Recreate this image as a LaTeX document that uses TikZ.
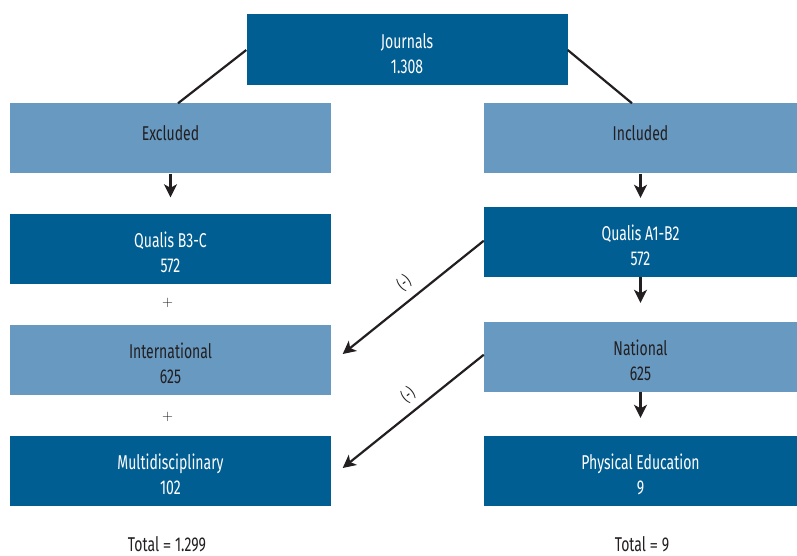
\documentclass[tikz,border=0pt]{standalone}
\usepackage{fontspec}
\setmainfont[FakeStretch=0.7]{Fira Sans}
\newfontfamily\widefont{Fira Sans}
\usetikzlibrary{arrows.meta,calc}
\definecolor{darkbox}{RGB}{0,94,146}
\definecolor{lightbox}{RGB}{103,153,193}
\definecolor{ink}{RGB}{35,31,32}
\tikzset{
  dbox/.style={draw=none,fill=darkbox,inner sep=0pt},
  lbox/.style={draw=none,fill=lightbox,inner sep=0pt},
  dtext/.style={text=white,anchor=base,inner sep=0pt,font=\fontsize{20}{25}\selectfont},
  ltext/.style={text=ink,anchor=base,inner sep=0pt,font=\fontsize{20}{25}\selectfont},
  conn/.style={draw=ink,line width=2.2pt},
  arr/.style={draw=ink,line width=2.2pt,-{Stealth[length=13pt,width=13pt,inset=3.5pt]}},
  lbl/.style={text=ink,font=\fontsize{16}{18}\selectfont,inner sep=0pt},
  plain/.style={text=ink,font=\fontsize{20}{25}\selectfont,inner sep=0pt}
}
\begin{document}
\begin{tikzpicture}[x=1pt,y=-1pt]
\useasboundingbox (0,0) rectangle (797,556);
% boxes
\node[dbox,minimum width=321pt,minimum height=71pt] (journals) at (407,50) {};
\node[lbox,minimum width=321pt,minimum height=70pt] (excl) at (170.5,138.5) {};
\node[lbox,minimum width=313pt,minimum height=70pt] (incl) at (640.5,138.5) {};
\node[dbox,minimum width=321pt,minimum height=70pt] (qb3) at (170.5,249) {};
\node[lbox,minimum width=321pt,minimum height=70pt] (intl) at (170.5,360) {};
\node[dbox,minimum width=321pt,minimum height=70pt] (multi) at (170.5,471) {};
\node[dbox,minimum width=313pt,minimum height=70pt] (qa1) at (640.5,242) {};
\node[lbox,minimum width=313pt,minimum height=70pt] (natl) at (640.5,357) {};
\node[dbox,minimum width=313pt,minimum height=70pt] (phys) at (640.5,471) {};
% texts
\node[dtext] (journals-a) at ($(journals.center)+(0,-1.5)$) {Journals};
\node[dtext] (journals-b) at ($(journals.center)+(0,23.5)$) {1.308};
\node[ltext] (excl-a) at ($(excl.center)+(0,2)$) {Excluded};
\node[ltext] (incl-a) at ($(incl.center)+(0,2)$) {Included};
\node[dtext] (qb3-a) at ($(qb3.center)+(0,-1.5)$) {Qualis B3-C};
\node[dtext] (qb3-b) at ($(qb3.center)+(0,23.5)$) {572};
\node[ltext] (intl-a) at ($(intl.center)+(0,-1.5)$) {International};
\node[ltext] (intl-b) at ($(intl.center)+(0,23.5)$) {625};
\node[dtext] (multi-a) at ($(multi.center)+(0,-1.5)$) {Multidisciplinary};
\node[dtext] (multi-b) at ($(multi.center)+(0,23.5)$) {102};
\node[dtext] (qa1-a) at ($(qa1.center)+(0,-1.5)$) {Qualis A1-B2};
\node[dtext] (qa1-b) at ($(qa1.center)+(0,23.5)$) {572};
\node[ltext] (natl-a) at ($(natl.center)+(0,-1.5)$) {National};
\node[ltext] (natl-b) at ($(natl.center)+(0,23.5)$) {625};
\node[dtext] (phys-a) at ($(phys.center)+(0,-1.5)$) {Physical Education};
\node[dtext] (phys-b) at ($(phys.center)+(0,23.5)$) {9};
\node[plain,font=\fontsize{14}{16}\selectfont] (plus1) at (167.5,302.5) {$+$};
\node[plain,font=\fontsize{14}{16}\selectfont] (plus2) at (167.5,417) {$+$};
\node[plain,anchor=base] (totl) at (167,551.5) {Total {\widefont\fontsize{17}{20}\selectfont=} 1.299};
\node[plain,anchor=base] (totr) at (642,551.5) {Total {\widefont\fontsize{17}{20}\selectfont=} 9};
% connectors
\coordinate (el) at ($(excl.north)+(7.5,0)$);
\coordinate (ir) at ($(incl.north)+(-8.5,0)$);
\draw[conn] (journals.west) -- (el);
\draw[conn] (journals.east) -- (ir);
\draw[arr,shorten >=16.5pt] (excl.south) -- (qb3.north);
\draw[arr,shorten >=9pt] (incl.south) -- (qa1.north);
\draw[arr,shorten >=19pt] (qa1.south) -- (natl.north);
\draw[arr,shorten >=18pt] (natl.south) -- (phys.north);
\coordinate (ie) at ($(intl.east)+(11.5,-6)$);
\coordinate (me) at ($(multi.east)+(11.5,-3)$);
\coordinate (qs) at ($(qa1.west)+(0,-1.3)$);
\coordinate (ns) at ($(natl.west)+(0,-2.3)$);
\draw[arr] (qs) -- (ie);
\draw[arr] (ns) -- (me);
\node[lbl,rotate=38.7] (m1) at (404,283) {(-)};
\node[lbl,rotate=38.7] (m2) at (408,395) {(-)};
\end{tikzpicture}
\end{document}
